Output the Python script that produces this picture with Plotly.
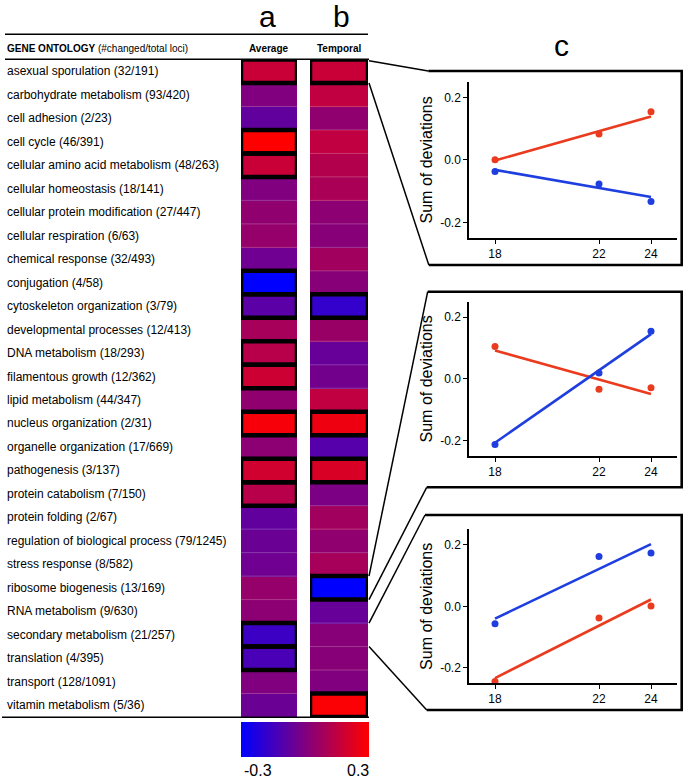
import plotly.graph_objects as go

W, H = 685, 779

# ---------------- data ----------------
categories = [
    "asexual sporulation (32/191)",
    "carbohydrate metabolism (93/420)",
    "cell adhesion (2/23)",
    "cell cycle (46/391)",
    "cellular amino acid metabolism (48/263)",
    "cellular homeostasis (18/141)",
    "cellular protein modification (27/447)",
    "cellular respiration (6/63)",
    "chemical response (32/493)",
    "conjugation (4/58)",
    "cytoskeleton organization (3/79)",
    "developmental processes (12/413)",
    "DNA metabolism (18/293)",
    "filamentous growth (12/362)",
    "lipid metabolism (44/347)",
    "nucleus organization (2/31)",
    "organelle organization (17/669)",
    "pathogenesis (3/137)",
    "protein catabolism (7/150)",
    "protein folding (2/67)",
    "regulation of biological process (79/1245)",
    "stress response (8/582)",
    "ribosome biogenesis (13/169)",
    "RNA metabolism (9/630)",
    "secondary metabolism (21/257)",
    "translation (4/395)",
    "transport (128/1091)",
    "vitamin metabolism (5/36)",
]
average = [0.17, 0.0, -0.07, 0.30, 0.17, 0.0, 0.04, 0.05, -0.04, -0.30,
           -0.09, 0.09, 0.13, 0.18, 0.04, 0.28, 0.03, 0.19, 0.13, -0.07,
           -0.05, -0.04, 0.05, 0.03, -0.16, -0.13, 0.0, -0.05]
temporal = [0.17, 0.15, 0.04, 0.15, 0.12, 0.10, 0.03, 0.02, 0.08, 0.02,
            -0.18, 0.06, -0.06, -0.03, 0.15, 0.26, -0.10, 0.21, -0.01, 0.08,
            0.04, 0.09, -0.30, -0.06, 0.02, 0.02, 0.0, 0.29]
boxed_average = [0, 3, 4, 9, 10, 12, 13, 15, 17, 18, 24, 25]
boxed_temporal = [0, 10, 15, 17, 22, 27]
colorbar_labels = ["-0.3", "0.3"]

temps = [18, 22, 24]
panel_red = [[0.0, 0.083, 0.154], [0.105, -0.034, -0.029], [-0.244, -0.038, 0.001]]
panel_blue = [[-0.037, -0.077, -0.133], [-0.213, 0.019, 0.154], [-0.057, 0.162, 0.173]]
fit_x = [18, 24]
fit_red = [[-0.002, 0.139], [0.092, -0.049], [-0.233, 0.022]]
fit_blue = [[-0.032, -0.119], [-0.207, 0.145], [-0.040, 0.202]]
panel_rows = [0, 22, 24]  # heatmap rows each panel is linked to

# ---------------- helpers ----------------
def fx(p):
    return p / W

def fy(p):
    return 1 - p / H

FONT = "Liberation Sans, Arial, Helvetica, sans-serif"
RED = "#EA3B1E"
BLUE = "#1F3EE0"
cscale = [[0, "rgb(0,0,255)"], [0.5, "rgb(128,0,128)"], [1, "rgb(255,0,0)"]]

fig = go.Figure()

rows = list(range(len(categories)))
fig.add_trace(go.Heatmap(
    z=[[v] for v in average], x=[0], y=rows, xaxis="x", yaxis="y",
    colorscale=cscale, zmin=-0.3, zmax=0.3, showscale=True, hoverinfo="skip",
    colorbar=dict(orientation="h", x=fx(305.5), xanchor="center",
                  y=fy(721.7), yanchor="top", len=128, lenmode="pixels",
                  thickness=35, thicknessmode="pixels", outlinewidth=0,
                  showticklabels=False, ticks="", xpad=0, ypad=0)))
fig.add_trace(go.Heatmap(
    z=[[v] for v in temporal], x=[0], y=rows, xaxis="x2", yaxis="y",
    colorscale=cscale, zmin=-0.3, zmax=0.3, showscale=False, hoverinfo="skip"))

# line panels
plot_top = [81.7, 301.7, 529.3]
plot_bot = [238, 456, 683.3]
for k in range(3):
    xa = "x%d" % (k + 3)
    ya = "y%d" % (k + 3)
    fig.add_trace(go.Scatter(x=fit_x, y=fit_red[k], mode="lines", xaxis=xa, yaxis=ya,
                             line=dict(color=RED, width=2.6), hoverinfo="skip"))
    fig.add_trace(go.Scatter(x=fit_x, y=fit_blue[k], mode="lines", xaxis=xa, yaxis=ya,
                             line=dict(color=BLUE, width=2.6), hoverinfo="skip"))
    fig.add_trace(go.Scatter(x=temps, y=panel_red[k], mode="markers", xaxis=xa, yaxis=ya,
                             marker=dict(color=RED, size=7), hoverinfo="skip"))
    fig.add_trace(go.Scatter(x=temps, y=panel_blue[k], mode="markers", xaxis=xa, yaxis=ya,
                             marker=dict(color=BLUE, size=7), hoverinfo="skip"))

layout = dict(
    width=W, height=H, margin=dict(l=0, r=0, t=0, b=0),
    paper_bgcolor="white", plot_bgcolor="white", showlegend=False,
    font=dict(family=FONT, color="black"),
    xaxis=dict(domain=[fx(241), fx(297)], range=[-0.5, 0.5], visible=False, anchor="y"),
    xaxis2=dict(domain=[fx(310), fx(368)], range=[-0.5, 0.5], visible=False, anchor="y"),
    yaxis=dict(domain=[fy(717), fy(59.5)], range=[27.5, -0.5], visible=False, anchor="x"),
)
for k in range(3):
    layout["xaxis%d" % (k + 3)] = dict(
        domain=[fx(469), fx(677)], range=[17, 25], anchor="y%d" % (k + 3),
        showline=True, linecolor="black", linewidth=1.5, mirror=False,
        ticks="outside", ticklen=4, tickwidth=1.2, tickcolor="black",
        tickvals=temps, showgrid=False, zeroline=False,
        tickfont=dict(size=12, family=FONT))
    layout["yaxis%d" % (k + 3)] = dict(
        domain=[fy(plot_bot[k]), fy(plot_top[k])], range=[-0.25, 0.25],
        anchor="x%d" % (k + 3),
        showline=True, linecolor="black", linewidth=1.5,
        ticks="outside", ticklen=4, tickwidth=1.2, tickcolor="black",
        tickvals=[-0.2, 0, 0.2], ticktext=["-0.2", "0.0", "0.2"],
        showgrid=False, zeroline=False, tickfont=dict(size=12, family=FONT),
        title=dict(text="Sum of deviations", font=dict(size=16, family=FONT), standoff=4))
fig.update_layout(**layout)

shapes = []
# faint row separators
for xr in ["x", "x2"]:
    for i in range(len(categories) - 1):
        shapes.append(dict(type="line", xref=xr, yref="y", x0=-0.5, x1=0.5,
                           y0=i + 0.5, y1=i + 0.5,
                           line=dict(color="rgba(255,255,255,0.22)", width=1)))
# header / footer rules
def hline(x0, x1, y, w=1.5):
    return dict(type="line", xref="paper", yref="paper", x0=fx(x0), x1=fx(x1),
                y0=fy(y), y1=fy(y), line=dict(color="black", width=w))

shapes.append(hline(5, 368, 34.3))
shapes.append(hline(5, 369, 59.3))
shapes.append(hline(2, 369, 717.3))
# highlighted cells
for xr, lst in [("x", boxed_average), ("x2", boxed_temporal)]:
    for i in lst:
        shapes.append(dict(type="rect", xref=xr, yref="y", x0=-0.5, x1=0.5,
                           y0=i - 0.5, y1=i + 0.5,
                           line=dict(color="black", width=4.5)))

# callout boxes
box_tl = [(428.3, 71), (427.7, 291.7), (425, 515)]
box_bl = [(428.8, 265), (426.7, 487.3), (426.7, 710)]
box_right = 681.7
row_top_px = 59.5
row_h = (717 - 59.5) / len(categories)
for k in range(3):
    (tlx, tly), (blx, bly) = box_tl[k], box_bl[k]
    path = "M %f,%f L %f,%f L %f,%f L %f,%f" % (
        fx(tlx), fy(tly), fx(box_right), fy(tly), fx(box_right), fy(bly), fx(blx), fy(bly))
    shapes.append(dict(type="path", xref="paper", yref="paper", path=path,
                       line=dict(color="black", width=2.6)))
    r = panel_rows[k]
    y_a = row_top_px + r * row_h + (1.2 if k == 0 else 0)
    y_b = row_top_px + (r + 1) * row_h
    shapes.append(dict(type="line", xref="paper", yref="paper",
                       x0=fx(369), y0=fy(y_a), x1=fx(tlx), y1=fy(tly),
                       line=dict(color="black", width=1.5)))
    shapes.append(dict(type="line", xref="paper", yref="paper",
                       x0=fx(369), y0=fy(y_b), x1=fx(blx), y1=fy(bly),
                       line=dict(color="black", width=1.5)))

annotations = []
for i, lab in enumerate(categories):
    annotations.append(dict(text=lab, xref="paper", yref="y", x=fx(5), y=i,
                            xanchor="left", yanchor="middle", showarrow=False,
                            font=dict(size=12, family=FONT)))

def ann(text, x, y, size, xanchor="center"):
    return dict(text=text, xref="paper", yref="paper", x=fx(x), y=fy(y),
                xanchor=xanchor, yanchor="middle", showarrow=False,
                font=dict(size=size, family=FONT, color="black"))

annotations.append(ann("<b>GENE ONTOLOGY</b> (#changed/total loci)", 5, 48, 10, "left"))
annotations.append(ann("<b>Average</b>", 269, 48, 10))
annotations.append(ann("<b>Temporal</b>", 339, 48, 10))
annotations.append(ann("a", 267, 16, 30))
annotations.append(ann("b", 341, 16, 30))
annotations.append(ann("c", 561, 46, 30))
annotations.append(ann(colorbar_labels[0], 258, 770, 16))
annotations.append(ann(colorbar_labels[1], 358, 770, 16))

fig.update_layout(shapes=shapes, annotations=annotations)
fig.write_html("out.html", config={"displayModeBar": False},
               post_script="document.body.style.margin='0px';document.body.style.overflow='hidden';")
